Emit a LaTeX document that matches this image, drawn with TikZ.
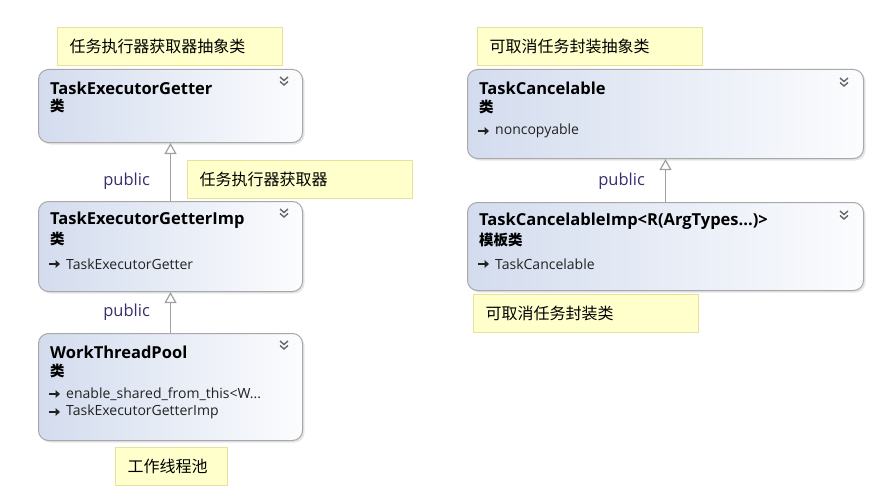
\documentclass[tikz,border=0pt]{standalone}
\usepackage{fontspec}
\setmainfont{Open Sans}
\newfontfamily\cjk{Noto Sans CJK SC}
\usetikzlibrary{arrows.meta,shadows,positioning}

\definecolor{boxblue}{HTML}{D3DCEE}
\definecolor{boxline}{HTML}{A8A8A8}
\definecolor{noteyellow}{HTML}{FFFFCC}
\definecolor{noteline}{HTML}{E6E29A}
\definecolor{linkgray}{HTML}{A0A0A0}
\definecolor{pubtext}{HTML}{3A2D6E}
\definecolor{membertext}{HTML}{222222}
\definecolor{chevgray}{HTML}{666666}

\tikzset{
  classbox/.style={draw=boxline, line width=1pt, rounded corners=10pt,
    left color=boxblue, right color=boxblue!8, anchor=north west,
    minimum width=#1, inner sep=0pt,
    drop shadow={shadow xshift=2pt, shadow yshift=-2pt, opacity=0.2, fill=gray}},
  notebox/.style={draw=noteline, fill=noteyellow, line width=1pt, anchor=north west,
    minimum height=38pt, inner xsep=12pt, inner ysep=0pt, text width=#1, align=left,
    font=\cjk\fontsize{16}{19}\selectfont},
  classname/.style={anchor=west, inner sep=0pt, font=\bfseries\fontsize{16.5}{19}\selectfont},
  classkind/.style={anchor=west, inner sep=0pt, font=\cjk\bfseries\fontsize{14.5}{17}\selectfont},
  member/.style={anchor=west, inner sep=0pt, text=membertext, font=\fontsize{14}{16}\selectfont},
  pub/.style={inner sep=0pt, text=pubtext, font=\fontsize{16.5}{19}\selectfont},
  inherit/.style={draw=linkgray, line width=1.2pt, -{Triangle[open, length=11pt, width=12pt]}},
  inhicon/.pic={
    \draw[membertext, line width=1.1pt] (0,0) -- (7,0);
    \fill[membertext] (6.5,-4) -- (11,0) -- (6.5,4) -- cycle;
  },
  chevron/.pic={
    \draw[chevgray, line width=1.4pt] (-4,-2) -- (0,1.5) -- (4,-2);
    \draw[chevgray, line width=1.4pt] (-4,2.5) -- (0,6) -- (4,2.5);
  }
}

\begin{document}
\begin{tikzpicture}[x=1pt, y=-1pt]
\useasboundingbox (0,0) rectangle (879,487);

% left column
\node[notebox=201pt] (noteGetter) at (57,27) {任务执行器获取器抽象类};
\node[classbox=264pt, minimum height=73pt] (getter) at (38,69) {};
\node[classname] (getterName) at ([xshift=12pt, yshift=-19pt]getter.north west) {TaskExecutorGetter};
\node[classkind] (getterKind) at ([xshift=12pt, yshift=-37pt]getter.north west) {类};
\pic at ([xshift=-19pt, yshift=-10pt]getter.north east) {chevron};

\node[classbox=264pt, minimum height=90pt] (imp) at (38,201) {};
\node[classname] (impName) at ([xshift=12pt, yshift=-19pt]imp.north west) {TaskExecutorGetterImp};
\node[classkind] (impKind) at ([xshift=12pt, yshift=-38pt]imp.north west) {类};
\node[member] (impBase) at ([xshift=28pt, yshift=-63pt]imp.north west) {TaskExecutorGetter};
\pic at ([xshift=-17pt]impBase.west) {inhicon};
\pic at ([xshift=-19pt, yshift=-10pt]imp.north east) {chevron};

\node[notebox=201pt] (noteImp) at (187,160) {任务执行器获取器};

\node[classbox=264pt, minimum height=107pt] (pool) at (38,333) {};
\node[classname] (poolName) at ([xshift=12pt, yshift=-19pt]pool.north west) {WorkThreadPool};
\node[classkind] (poolKind) at ([xshift=12pt, yshift=-38pt]pool.north west) {类};
\node[member] (poolBase1) at ([xshift=28pt, yshift=-61pt]pool.north west) {enable\_shared\_from\_this<W...};
\node[member] (poolBase2) at ([xshift=28pt, yshift=-79pt]pool.north west) {TaskExecutorGetterImp};
\pic at ([xshift=-17pt]poolBase1.west) {inhicon};
\pic at ([xshift=-17pt]poolBase2.west) {inhicon};
\pic at ([xshift=-19pt, yshift=-10pt]pool.north east) {chevron};

\node[notebox=88pt] (notePool) at (115,447) {工作线程池};

\draw[inherit] (imp) -- node[pub, pos=0.34, left=20pt] {public} (getter);
\draw[inherit] (pool) -- node[pub, pos=0.5, left=20pt] {public} (imp);

% right column
\node[notebox=201pt] (noteCancel) at (477,27) {可取消任务封装抽象类};
\node[classbox=396pt, minimum height=89pt] (cancel) at (467,69) {};
\node[classname] (cancelName) at ([xshift=12pt, yshift=-19pt]cancel.north west) {TaskCancelable};
\node[classkind] (cancelKind) at ([xshift=12pt, yshift=-38pt]cancel.north west) {类};
\node[member] (cancelBase) at ([xshift=28pt, yshift=-62pt]cancel.north west) {noncopyable};
\pic at ([xshift=-17pt]cancelBase.west) {inhicon};
\pic at ([xshift=-20pt, yshift=-11pt]cancel.north east) {chevron};

\node[classbox=396pt, minimum height=88pt] (cimp) at (467,202) {};
\node[classname] (cimpName) at ([xshift=12pt, yshift=-19pt]cimp.north west) {TaskCancelableImp<R(ArgTypes...)>};
\node[classkind] (cimpKind) at ([xshift=12pt, yshift=-38pt]cimp.north west) {模板类};
\node[member] (cimpBase) at ([xshift=28pt, yshift=-62pt]cimp.north west) {TaskCancelable};
\pic at ([xshift=-17pt]cimpBase.west) {inhicon};
\pic at ([xshift=-20pt, yshift=-11pt]cimp.north east) {chevron};

\node[notebox=201pt] (noteCimp) at (473,294) {可取消任务封装类};

\draw[inherit] (cimp) -- node[pub, pos=0.48, left=20pt] {public} (cancel);
\end{tikzpicture}
\end{document}
